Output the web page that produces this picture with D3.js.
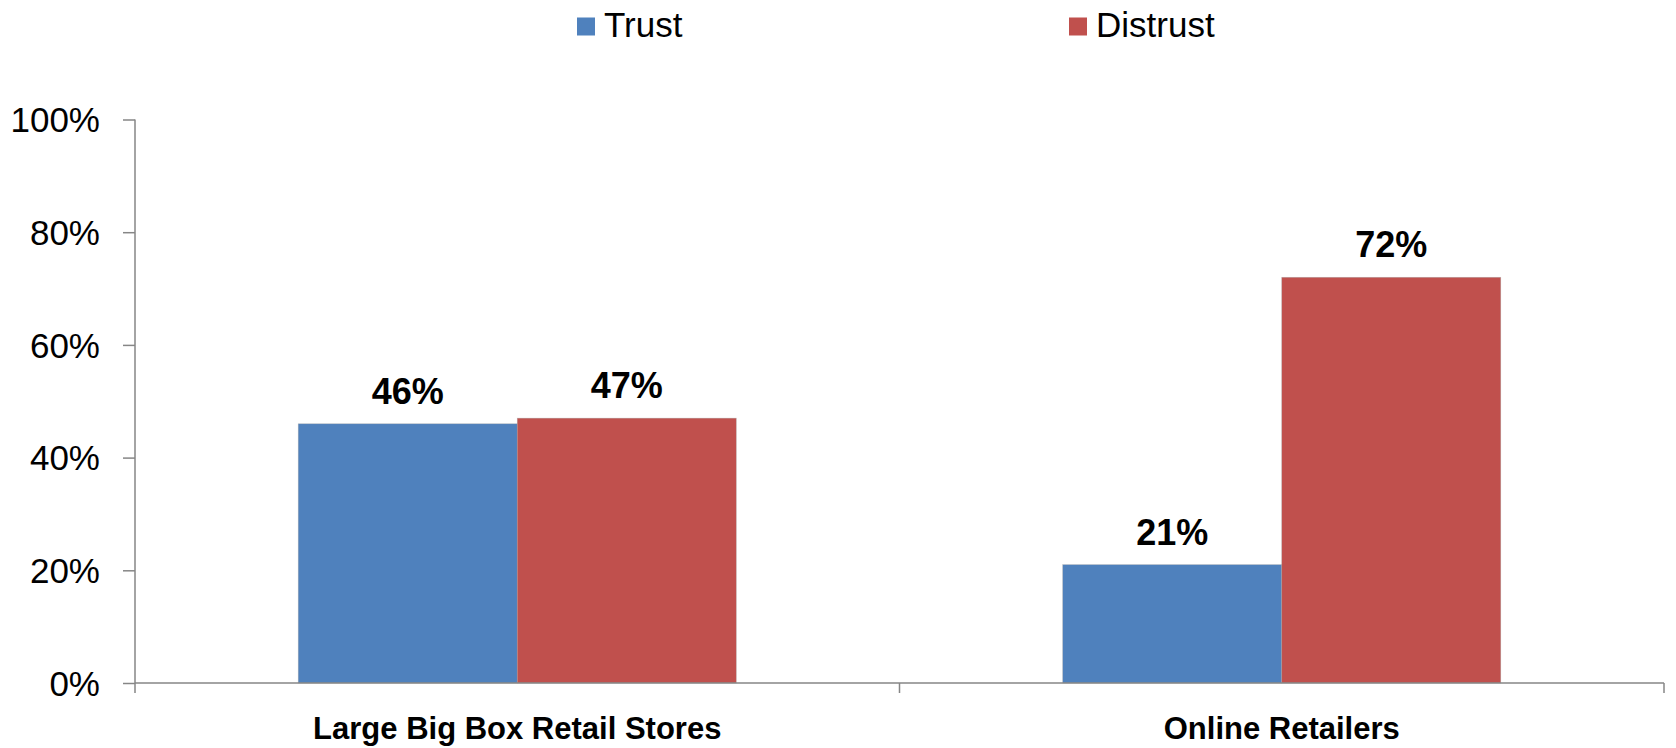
<!DOCTYPE html>
<html>
<head>
<meta charset="utf-8">
<script src="https://cdn.jsdelivr.net/npm/d3@7"></script>
<style>
  body { margin: 0; background: #fff; }
  text { font-family: "Liberation Sans", Arial, sans-serif; fill: #000; }
</style>
</head>
<body>
<svg id="chart" width="1676" height="748"></svg>
<script>
// chart data
let categories = ["Large Big Box Retail Stores", "Online Retailers"];
let seriesNames = ["Trust", "Distrust"];
let trustValues = [46, 21];
let distrustValues = [47, 72];
let yTicks = [0, 20, 40, 60, 80, 100];

let colors = { "Trust": "#4f81bd", "Distrust": "#c0504d" };

let margin = { top: 119.5, right: 12, bottom: 65, left: 135 };
let width = 1676, height = 748;

let svg = d3.select("#chart");

let rows = categories.map((c, i) => ({
    category: c,
    values: [
        { series: "Trust", value: trustValues[i] },
        { series: "Distrust", value: distrustValues[i] }
    ]
}));

let x0 = d3.scaleBand().domain(categories)
    .range([margin.left, width - margin.right])
    .padding(0);

// bars take up ~57% of each category band
let groupFrac = 0.573;
let x1 = d3.scaleBand().domain(seriesNames)
    .range([x0.bandwidth() * (1 - groupFrac) / 2, x0.bandwidth() * (1 + groupFrac) / 2])
    .padding(0);

let y = d3.scaleLinear().domain([0, 100])
    .range([height - margin.bottom, margin.top]);

// y axis
let yAxis = svg.append("g")
    .attr("transform", "translate(" + margin.left + ",0)")
    .call(d3.axisLeft(y).tickValues(yTicks).tickSize(12).tickPadding(23)
        .tickFormat(d => d + "%"));
yAxis.selectAll("path, line").attr("stroke", "#868686").attr("stroke-width", 1.5);
yAxis.select(".domain").attr("d", "M0," + y(100) + "V" + y(0));
yAxis.selectAll("text")
    .style("font-size", "35px")
    .attr("dy", "0.35em");

// bars
let groups = svg.selectAll(".cat_g").data(rows).join("g")
    .attr("class", "cat_g")
    .attr("transform", d => "translate(" + x0(d.category) + ",0)");

groups.selectAll("rect").data(d => d.values).join("rect")
    .attr("x", d => x1(d.series))
    .attr("width", x1.bandwidth())
    .attr("y", d => y(d.value))
    .attr("height", d => y(0) - y(d.value))
    .style("fill", d => colors[d.series])
    .style("stroke", "#a6a6a6")
    .style("stroke-width", 0.6)
    .style("stroke-opacity", 0.6);

// value labels
groups.selectAll(".vlabel").data(d => d.values).join("text")
    .attr("class", "vlabel")
    .attr("x", d => x1(d.series) + x1.bandwidth() / 2)
    .attr("y", d => y(d.value) - 20)
    .attr("text-anchor", "middle")
    .style("font-size", "36px")
    .style("font-weight", "bold")
    .text(d => d.value + "%");

// x axis
let xAxis = svg.append("g")
    .attr("transform", "translate(0," + y(0) + ")");
xAxis.append("line")
    .attr("x1", margin.left).attr("x2", width - margin.right)
    .attr("y1", 0).attr("y2", 0)
    .style("stroke", "#868686").style("stroke-width", 1.5);
let bounds = categories.map(c => x0(c)).concat([x0(categories[categories.length - 1]) + x0.bandwidth()]);
xAxis.selectAll(".xtick").data(bounds).join("line")
    .attr("class", "xtick")
    .attr("x1", d => d).attr("x2", d => d)
    .attr("y1", 0).attr("y2", 10)
    .style("stroke", "#868686").style("stroke-width", 1.5);
xAxis.selectAll(".xlabel").data(categories).join("text")
    .attr("class", "xlabel")
    .attr("x", d => x0(d) + x0.bandwidth() / 2)
    .attr("y", 56)
    .attr("text-anchor", "middle")
    .style("font-size", "31px")
    .style("font-weight", "bold")
    .text(d => d);

// legend
let legendX = [577, 1069];
let legend = svg.selectAll(".legend_g").data(seriesNames).join("g")
    .attr("class", "legend_g")
    .attr("transform", (d, i) => "translate(" + legendX[i] + ",0)");
legend.append("rect")
    .attr("x", 0).attr("y", 17.5)
    .attr("width", 18).attr("height", 18)
    .style("fill", d => colors[d]);
legend.append("text")
    .attr("x", 27).attr("y", 36.5)
    .style("font-size", "35px")
    .text(d => d);
</script>
</body>
</html>
